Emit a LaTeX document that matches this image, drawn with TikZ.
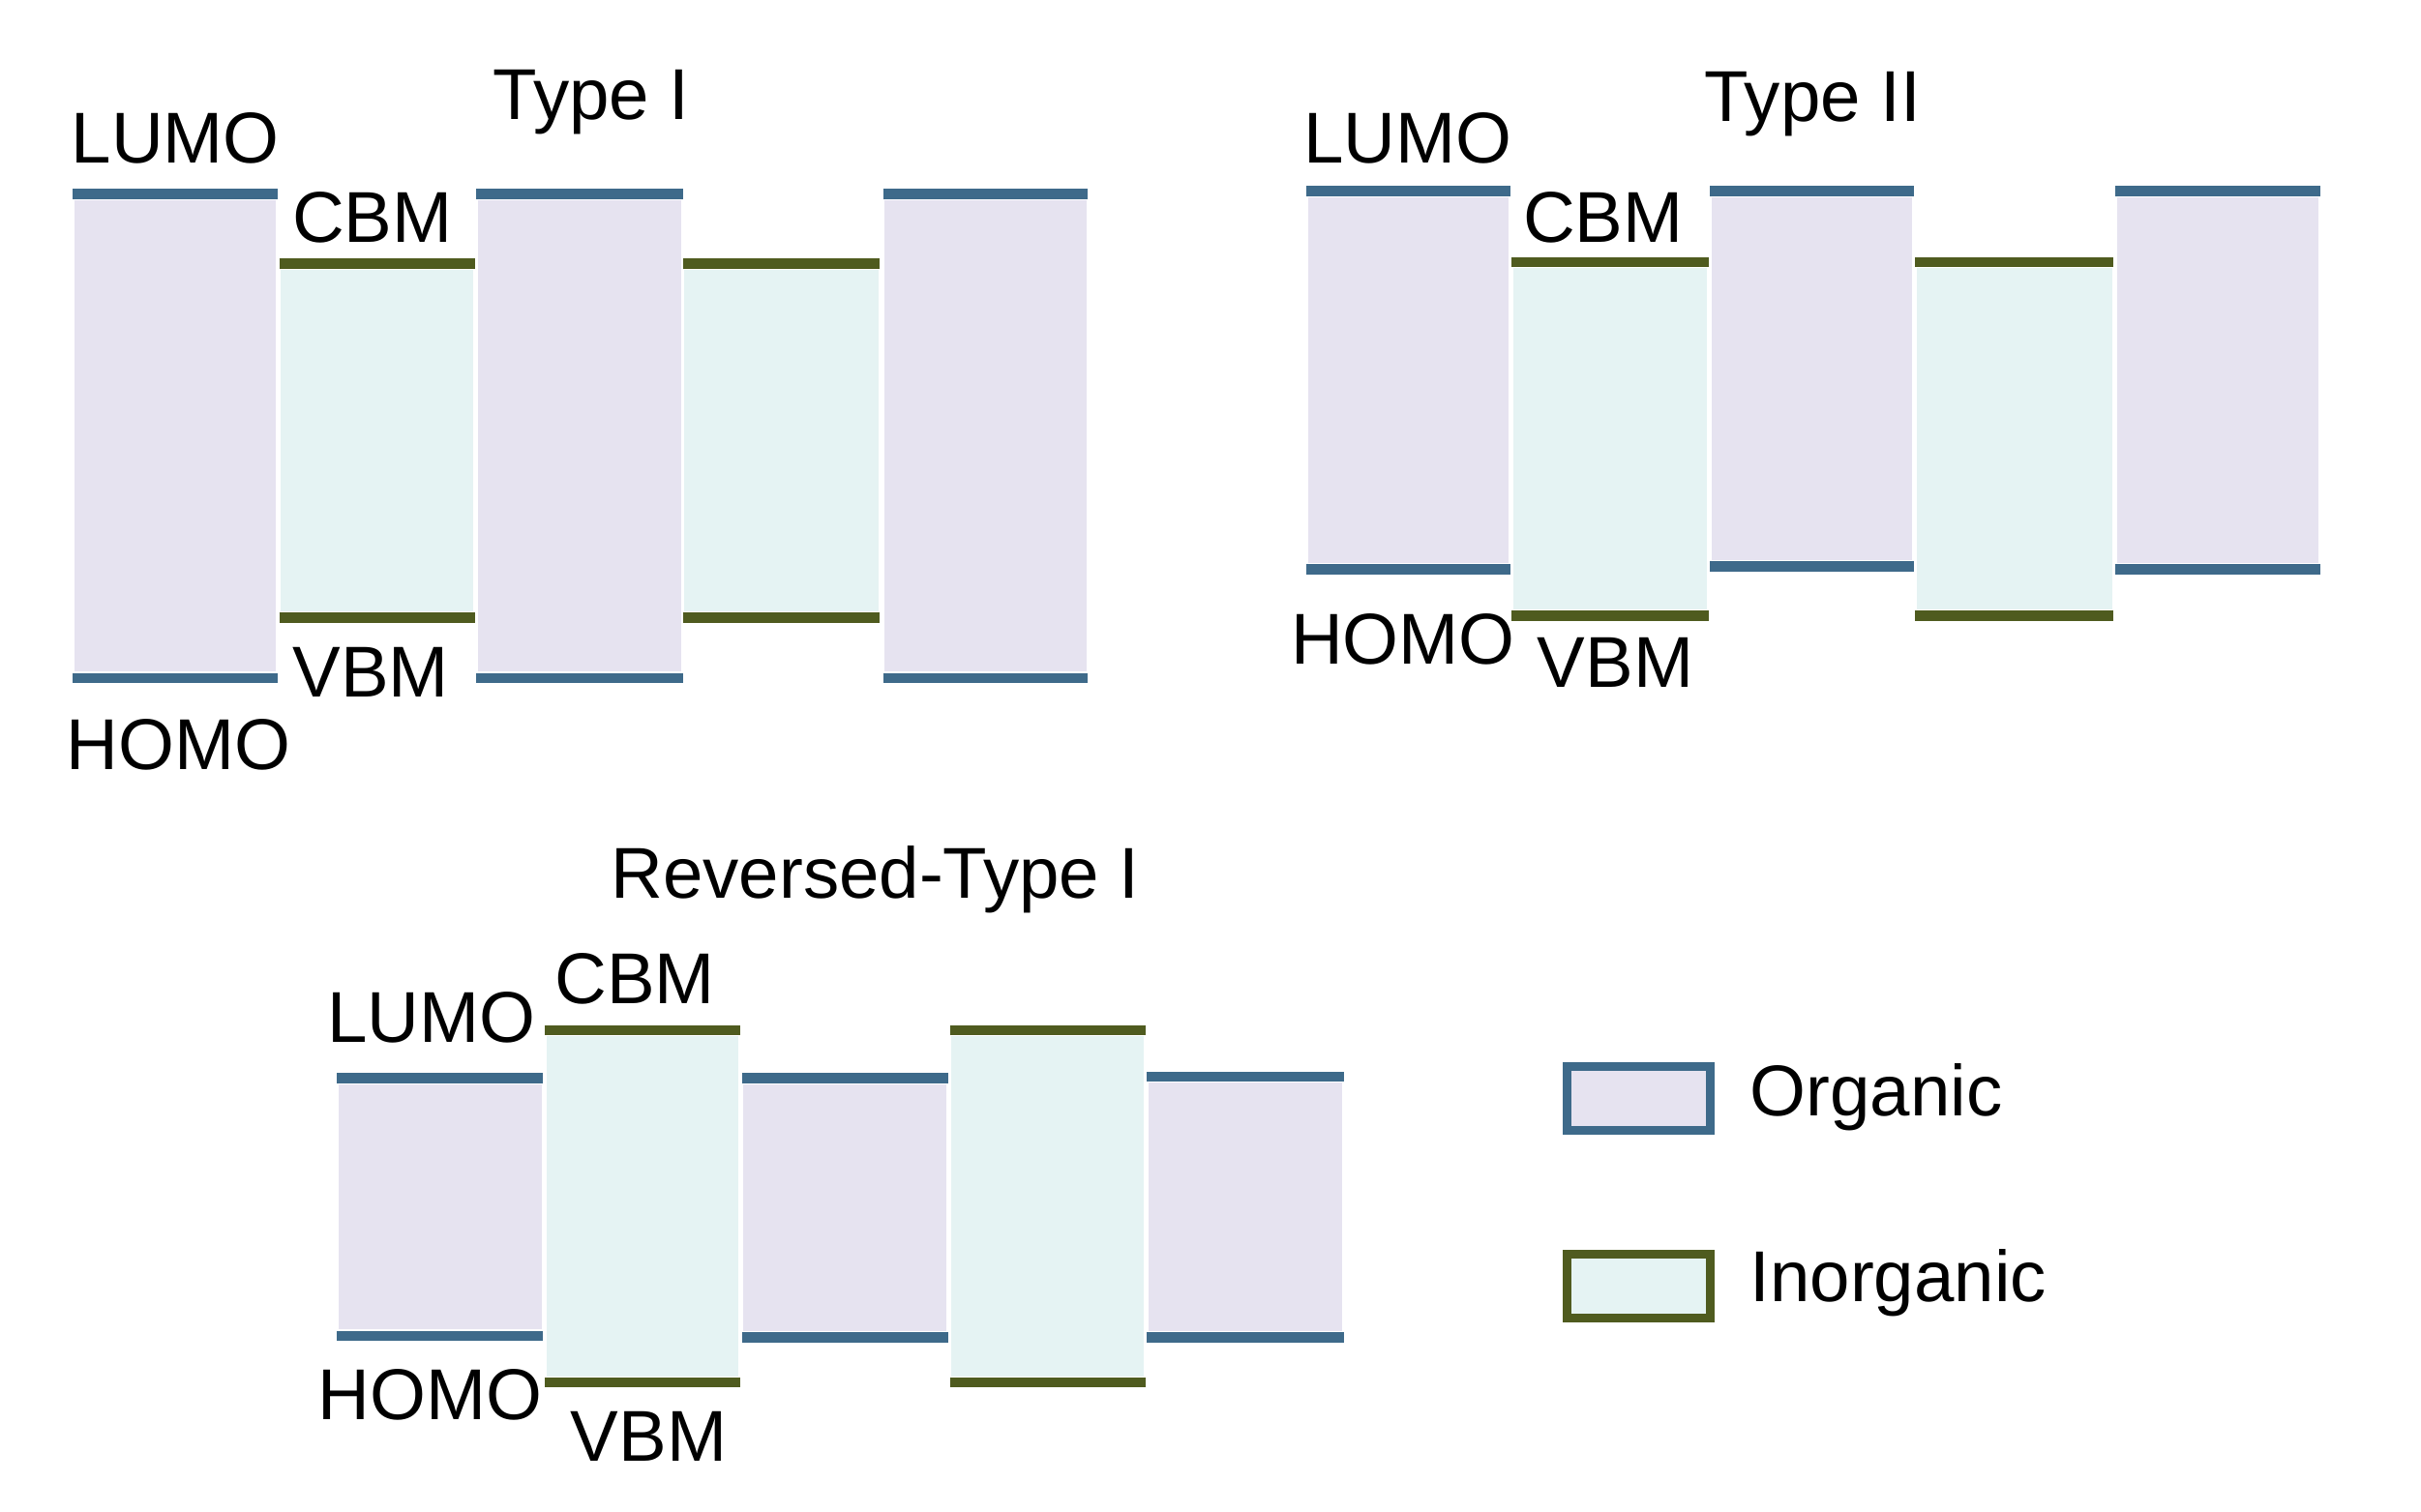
\documentclass[tikz,border=0pt]{standalone}
\usepackage{fontspec}
\setmainfont{Liberation Sans}
\usetikzlibrary{positioning}

\definecolor{lineorg}{HTML}{3E6A8A}
\definecolor{fillorg}{HTML}{E6E3F0}
\definecolor{lineino}{HTML}{4F5B1F}
\definecolor{fillino}{HTML}{E5F3F3}

\tikzset{
  level/.style={line width=1.9pt},
  lbl/.style={font=\fontsize{13.2}{15}\selectfont, inner sep=0pt, anchor=base},
  legbox/.style={draw, line width=1.6pt, minimum width=0.92cm, minimum height=0.41cm, inner sep=0pt}
}

\begin{document}
\begin{tikzpicture}[x=0.01cm, y=-0.01cm]
	    \useasboundingbox (0,0) rectangle (1560,974);

	    % Type I: x left / x right / top level / bottom level / kind
	    \foreach \xa/\xb/\yt/\yb/\kind in {47/179/125/437/org, 180/306/170/398/ino,
		307/440/125/437/org, 440/567/170/398/ino, 569/701/125/437/org}
	    {
		\fill [fill=fill\kind] (\xa+1,\yt+4) rectangle (\xb-1,\yb-4);
		\draw [level, draw=line\kind] (\xa,\yt) -- (\xb,\yt);
		\draw [level, draw=line\kind] (\xa,\yb) -- (\xb,\yb);
	    }
	    \node [lbl] (titleI) at (381,77)  {Type I};
	    \node [lbl] (lumoI)  at (113,105) {LUMO};
	    \node [lbl] (cbmI)   at (240,156) {CBM};
	    \node [lbl] (vbmI)   at (239,449) {VBM};
	    \node [lbl] (homoI)  at (115,496) {HOMO};

	    % Type II
	    \foreach \xa/\xb/\yt/\yb/\kind in {842/973/123/367/org, 974/1101/169/397/ino,
		1102/1233/123/365/org, 1234/1362/169/397/ino, 1363/1495/123/367/org}
	    {
		\fill [fill=fill\kind] (\xa+1,\yt+4) rectangle (\xb-1,\yb-4);
		\draw [level, draw=line\kind] (\xa,\yt) -- (\xb,\yt);
		\draw [level, draw=line\kind] (\xa,\yb) -- (\xb,\yb);
	    }
	    \node [lbl] (titleII) at (1168,78) {Type II};
	    \node [lbl] (lumoII)  at (907,105) {LUMO};
	    \node [lbl] (cbmII)   at (1033,156) {CBM};
	    \node [lbl] (homoII)  at (904,428) {HOMO};
	    \node [lbl] (vbmII)   at (1041,443) {VBM};

	    % Reversed-Type I
	    \foreach \xa/\xb/\yt/\yb/\kind in {217/350/695/861/org, 351/477/664/891/ino,
		478/611/695/862/org, 612/738/664/891/ino, 739/866/694/862/org}
	    {
		\fill [fill=fill\kind] (\xa+1,\yt+4) rectangle (\xb-1,\yb-4);
		\draw [level, draw=line\kind] (\xa,\yt) -- (\xb,\yt);
		\draw [level, draw=line\kind] (\xa,\yb) -- (\xb,\yb);
	    }
	    \node [lbl] (titleR) at (564,579) {Reversed-Type I};
	    \node [lbl] (lumoR)  at (278,672) {LUMO};
	    \node [lbl] (cbmR)   at (409,647) {CBM};
	    \node [lbl] (homoR)  at (277,915) {HOMO};
	    \node [lbl] (vbmR)   at (418,942) {VBM};

	    % Legend
	    \node [legbox, draw=lineorg, fill=fillorg] (legorg) at (1056,708) {};
	    \node [legbox, draw=lineino, fill=fillino] (legino) at (1056,829) {};
	    \node [lbl, anchor=base west] (txtorg) at (1127,719) {Organic};
	    \node [lbl, anchor=base west] (txtino) at (1127,839) {Inorganic};
\end{tikzpicture}
\end{document}
